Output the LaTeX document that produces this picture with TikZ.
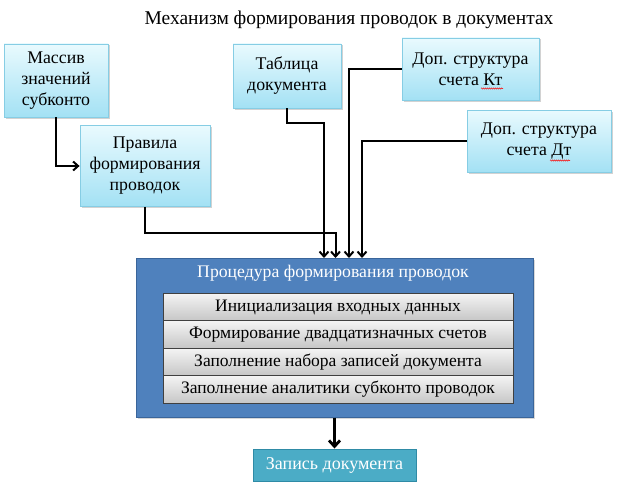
\documentclass[tikz,border=0pt]{standalone}
\usepackage{fontspec}
\setmainfont{Liberation Serif}
\usetikzlibrary{arrows.meta,shadows,decorations.pathmorphing}
\definecolor{lbtop}{HTML}{E9FAFE}
\definecolor{lbbot}{HTML}{A3E1F4}
\definecolor{lbline}{HTML}{86CDE4}
\definecolor{bluefill}{HTML}{4F81BD}
\definecolor{blueline}{HTML}{3A659A}
\definecolor{graytop}{HTML}{F4F4F4}
\definecolor{graybot}{HTML}{C6C6C6}
\definecolor{tealfill}{HTML}{4BACC6}
\definecolor{tealline}{HTML}{2F8BA6}
\tikzset{
  lbox/.style={draw=lbline, line width=0.8pt, top color=lbtop, bottom color=lbbot,
    align=center, inner sep=0pt, font=\fontsize{17.8}{21}\selectfont,
    drop shadow={shadow xshift=1.5pt, shadow yshift=-1.5pt, opacity=0.35}},
  rowbox/.style={draw=black!75, line width=0.6pt, top color=graytop, bottom color=graybot,
    inner sep=0pt, minimum width=350pt, minimum height=27.5pt, font=\fontsize{17.5}{20}\selectfont,
    drop shadow={shadow xshift=1.2pt, shadow yshift=-1.2pt, opacity=0.4}},
  conn/.style={line width=2pt, -{Straight Barb[length=5pt,width=9pt,line width=2pt]}},
  spell/.style={red, line width=0.5pt, decorate, decoration={snake, amplitude=0.6pt, segment length=2pt}}
}
\begin{document}
\begin{tikzpicture}[x=1pt,y=-1pt]
\useasboundingbox (0,0) rectangle (623,495);
\fill[white] (0,0) rectangle (623,495);
\node[font=\fontsize{19.5}{22}\selectfont] (title) at (349,20) {Механизм формирования проводок в документах};

\node[lbox, minimum width=104pt, minimum height=73pt] (mas) at (56,80.5) {Массив\\значений\\субконто};
\node[lbox, minimum width=130pt, minimum height=81pt] (prav) at (145,166) {Правила\\формирования\\проводок};
\node[lbox, minimum width=108pt, minimum height=64pt] (tab) at (287,76) {Таблица\\документа};
\node[lbox, minimum width=137pt, minimum height=62pt] (kt) at (470.5,69) {Доп. структура\\счета Кт};
\node[lbox, minimum width=144pt, minimum height=62pt] (dt) at (539,141) {Доп. структура\\счета Дт};

\node[draw=blueline, line width=1pt, fill=bluefill, minimum width=397pt, minimum height=159pt, inner sep=0pt,
  drop shadow={shadow xshift=1.5pt, shadow yshift=-1.5pt, opacity=0.3}] (blue) at (334.5,337.5) {};
\node[text=white, font=\fontsize{17.7}{20}\selectfont] (btitle) at (333,273) {Процедура формирования проводок};
\node[rowbox] (r1) at (338,307) {Инициализация входных данных};
\node[rowbox] (r2) at (338,334.5) {Формирование двадцатизначных счетов};
\node[rowbox] (r3) at (338,362) {Заполнение набора записей документа};
\node[rowbox] (r4) at (338,389.5) {Заполнение аналитики субконто проводок};

\node[draw=tealline, line width=1pt, fill=tealfill, text=white, minimum width=163pt, minimum height=32pt,
  inner sep=0pt, font=\fontsize{18}{20}\selectfont,
  drop shadow={shadow xshift=1.2pt, shadow yshift=-1.2pt, opacity=0.3}] (zap) at (334.5,465) {Запись документа};

\coordinate (in1) at (324,258);
\coordinate (in2) at (335.5,258);
\coordinate (in3) at (349,258);
\coordinate (in4) at (362,258);

\draw[conn] (mas.south) |- (prav.west);
\draw[conn] (tab.south) -- ++(0,15) -| (in1);
\draw[conn] (prav.south) -- ++(0,26) -| (in2);
\draw[conn] (kt.west) -| (in3);
\draw[conn] (dt.west) -| (in4);
\draw[line width=2.8pt, -{Straight Barb[length=6pt,width=11pt,line width=2.8pt]}] (blue.south) -- (zap.north);

\draw[spell] (481,88.5) -- (503,88.5);
\draw[spell] (550,160.5) -- (570,160.5);
\end{tikzpicture}
\end{document}
